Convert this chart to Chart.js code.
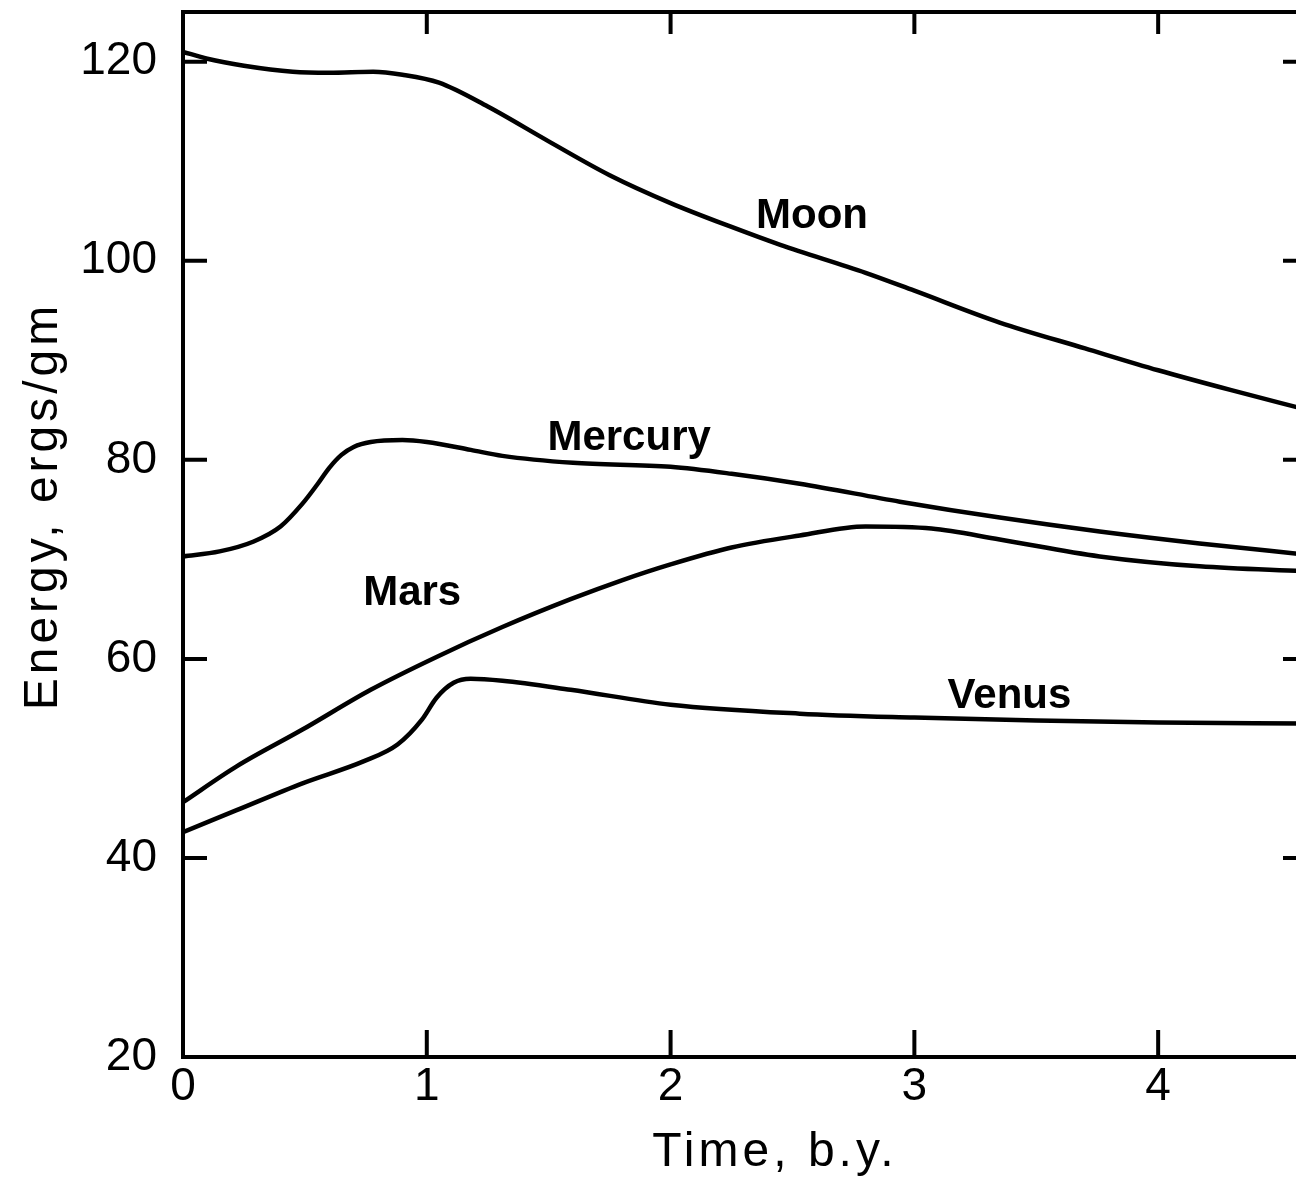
<!DOCTYPE html>
<html lang="en">
<head>
<meta charset="UTF-8">
<title>Energy vs time</title>
<style>
    body { margin: 0; background: #fff; overflow: hidden; }
    #wrap { width: 1310px; height: 1182px; }
</style>
</head>
<body>
<div id="wrap"><canvas id="chart" width="1310" height="1182"></canvas></div>

<script src="https://cdn.jsdelivr.net/npm/chart.js@4/dist/chart.umd.min.js"></script>
<script>
    // values: time in b.y., energy in ergs/gm
    const moonTime = [0, 0.1, 0.25, 0.45, 0.6, 0.78, 0.9, 1.05, 1.25, 1.5, 1.75, 2.0, 2.25, 2.45, 2.8, 3.0, 3.35, 3.7, 4.0, 4.3, 4.6];
    const moonEnergy = [121.0, 120.3, 119.6, 119.0, 118.9, 119.0, 118.7, 117.9, 115.5, 112.0, 108.6, 105.8, 103.4, 101.6, 98.8, 97.0, 93.8, 91.2, 89.0, 87.0, 85.1];

    const mercuryTime = [0, 0.15, 0.29, 0.4, 0.49, 0.55, 0.6, 0.65, 0.7, 0.77, 0.9, 1.0, 1.18, 1.31, 1.6, 2.0, 2.25, 2.53, 2.94, 3.35, 3.76, 4.17, 4.6];
    const mercuryEnergy = [70.3, 70.8, 71.8, 73.3, 75.6, 77.5, 79.2, 80.5, 81.3, 81.8, 82.0, 81.8, 81.0, 80.4, 79.7, 79.3, 78.6, 77.6, 75.8, 74.2, 72.8, 71.6, 70.5];

    const marsTime = [0, 0.22, 0.49, 0.77, 1.04, 1.31, 1.59, 1.8, 2.0, 2.25, 2.53, 2.8, 3.07, 3.35, 3.76, 4.17, 4.6];
    const marsEnergy = [45.6, 49.2, 52.9, 56.9, 60.2, 63.2, 66.0, 67.9, 69.5, 71.2, 72.4, 73.3, 73.1, 72.0, 70.3, 69.3, 68.8];

    const venusTime = [0, 0.22, 0.49, 0.74, 0.88, 0.98, 1.04, 1.11, 1.18, 1.31, 1.59, 2.0, 2.53, 3.0, 3.5, 4.0, 4.6];
    const venusEnergy = [42.6, 44.8, 47.5, 49.7, 51.4, 53.9, 56.1, 57.6, 58.0, 57.8, 56.9, 55.4, 54.5, 54.1, 53.8, 53.6, 53.5];

    const xTicks = [0, 1, 2, 3, 4];
    const yTicks = [20, 40, 60, 80, 100, 120];

    const curveNames = ['Moon', 'Mercury', 'Mars', 'Venus'];
    // where each name is lettered (time, energy of the baseline)
    const nameAt = [[2.58, 103.3], [1.83, 81.0], [0.94, 65.4], [3.39, 55.1]];

    const FONT = '"Liberation Sans", Arial, sans-serif';

    function pts(xs, ys) {
        return xs.map((t, i) => ({ x: t, y: ys[i] }));
    }

    function curve(label, xs, ys) {
        return {
            label: label,
            data: pts(xs, ys),
            borderColor: '#000',
            borderWidth: 4.5,
            pointRadius: 0,
            fill: false,
            tension: 0.4,
            cubicInterpolationMode: 'monotone'
        };
    }

    // box on top/right plus the inward tick marks, curve names and axis titles
    const frame = {
        id: 'frame',
        afterDatasetsDraw(chart) {
            const { ctx, chartArea: a, scales: { x, y } } = chart;
            ctx.save();
            ctx.strokeStyle = '#000';
            ctx.lineWidth = 4;
            ctx.beginPath();
            ctx.moveTo(a.left - 2, a.top);
            ctx.lineTo(a.right, a.top);
            ctx.lineTo(a.right, a.bottom);
            xTicks.slice(1).forEach(v => {
                const px = x.getPixelForValue(v);
                ctx.moveTo(px, a.bottom);
                ctx.lineTo(px, a.bottom - 27);
                ctx.moveTo(px, a.top);
                ctx.lineTo(px, a.top + 22);
            });
            yTicks.slice(1).forEach(v => {
                const py = y.getPixelForValue(v);
                ctx.moveTo(a.left, py);
                ctx.lineTo(a.left + 24, py);
                ctx.moveTo(a.right, py);
                ctx.lineTo(a.right - 19, py);
            });
            ctx.stroke();

            ctx.fillStyle = '#000';
            ctx.textAlign = 'center';
            ctx.textBaseline = 'alphabetic';
            ctx.font = 'bold 42px ' + FONT;
            curveNames.forEach((n, i) => {
                ctx.fillText(n, x.getPixelForValue(nameAt[i][0]), y.getPixelForValue(nameAt[i][1]));
            });

            ctx.font = '48px ' + FONT;
            ctx.letterSpacing = '4px';
            ctx.fillText('Time, b.y.', 775, 1166);
            ctx.translate(57, 506);
            ctx.rotate(-Math.PI / 2);
            ctx.fillText('Energy, ergs/gm', 0, 0);
            ctx.restore();
        }
    };

    const tickFont = { family: FONT, size: 46 };

    new Chart(document.getElementById('chart'), {
        type: 'line',
        data: {
            datasets: [
                curve('Moon', moonTime, moonEnergy),
                curve('Mercury', mercuryTime, mercuryEnergy),
                curve('Mars', marsTime, marsEnergy),
                curve('Venus', venusTime, venusEnergy)
            ]
        },
        options: {
            responsive: false,
            animation: false,
            layout: { padding: { top: 12, right: 8, left: 0, bottom: 0 } },
            plugins: {
                legend: { display: false },
                tooltip: { enabled: false }
            },
            scales: {
                x: {
                    type: 'linear',
                    min: 0,
                    max: 4.59,
                    afterBuildTicks: s => { s.ticks = xTicks.map(v => ({ value: v })); },
                    afterFit: s => {
                        s.height = 125;
                        s.paddingLeft = 0;
                        s.paddingRight = 0;
                    },
                    grid: { display: false, drawTicks: false },
                    border: { display: true, color: '#000', width: 4 },
                    ticks: { color: '#000', font: tickFont, padding: 3, maxRotation: 0 }
                },
                y: {
                    type: 'linear',
                    min: 20,
                    max: 125,
                    afterBuildTicks: s => { s.ticks = yTicks.map(v => ({ value: v })); },
                    afterFit: s => {
                        s.width = 183;
                        s.paddingTop = 0;
                        s.paddingBottom = 0;
                    },
                    grid: { display: false, drawTicks: false },
                    border: { display: true, color: '#000', width: 4 },
                    ticks: { color: '#000', font: tickFont, padding: 26 }
                }
            }
        },
        plugins: [frame]
    });
</script>
</body>
</html>
